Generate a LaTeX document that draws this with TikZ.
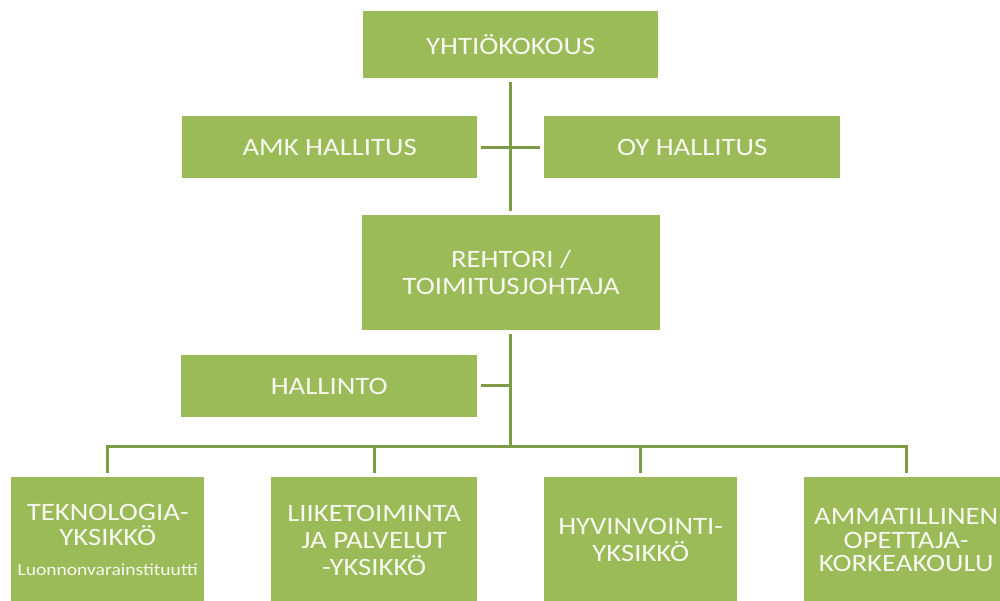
\documentclass[tikz,border=0pt]{standalone}
\usepackage{fontspec}
\setmainfont{Carlito}[FakeStretch=1.15]
\definecolor{boxgreen}{HTML}{9BBB59}
\definecolor{linegreen}{HTML}{7D9A45}
\definecolor{labelwhite}{HTML}{F7F9F0}
\begin{document}
\begin{tikzpicture}[x=1pt,y=-1pt,
  unit/.style={fill=boxgreen, text=labelwhite, align=center, inner sep=0pt,
    anchor=north west, font=\fontsize{25}{27}\selectfont},
  conn/.style={draw=linegreen, line width=3pt},
  gap/.style={shorten <=4pt, shorten >=4pt}]
\clip (0,0) rectangle (1000,600);
\fill[white] (0,0) rectangle (1000,600);

% boxes
\node[unit, minimum width=295pt, minimum height=67pt] (yht) at (363,11) {YHTIÖKOKOUS};
\node[unit, minimum width=295pt, minimum height=62pt] (amk) at (182,116) {AMK HALLITUS};
\node[unit, minimum width=296pt, minimum height=62pt] (oy) at (544,116) {OY HALLITUS};
\node[unit, minimum width=298pt, minimum height=115pt] (reh) at (362,215) {REHTORI /\\TOIMITUSJOHTAJA};
\node[unit, minimum width=296pt, minimum height=62pt] (hal) at (181,355) {HALLINTO};

\node[unit, minimum width=193pt, minimum height=126pt, font=\fontsize{25}{25}\selectfont] (b1) at (11,477)
  {TEKNOLOGIA-\\YKSIKKÖ\\[5pt]{\fontsize{17}{18}\selectfont Luonnonvarainstituutti}};
\node[unit, minimum width=206pt, minimum height=126pt] (b2) at (271,477)
  {LIIKETOIMINTA\\JA PALVELUT\\-YKSIKKÖ};
\node[unit, minimum width=193pt, minimum height=126pt] (b3) at (544,477)
  {HYVINVOINTI-\\YKSIKKÖ};
\node[unit, minimum width=204pt, minimum height=126pt, font=\fontsize{25}{23.5}\selectfont] (b4) at (804,477)
  {AMMATILLINEN\\OPETTAJA-\\KORKEAKOULU};

% connectors
\coordinate (top) at (510,82);
\coordinate (mid) at (510,211);
\coordinate (low) at (510,334);
\coordinate (bus) at (510,446);
\coordinate (hj) at (510,385);

\draw[conn] (top) -- (mid);
\draw[conn, gap] (amk.east) -- (oy.west);
\draw[conn] (low) -- (bus);
\draw[conn, shorten <=4pt] (hal.east |- hj) -- (hj);
\draw[conn, shorten <=4pt, shorten >=4pt] (b1.north) |- (bus) -| (b4.north);
\draw[conn, shorten >=4pt] (b2.north |- bus) -- (b2.north);
\draw[conn, shorten >=4pt] (b3.north |- bus) -- (b3.north);
\end{tikzpicture}
\end{document}
